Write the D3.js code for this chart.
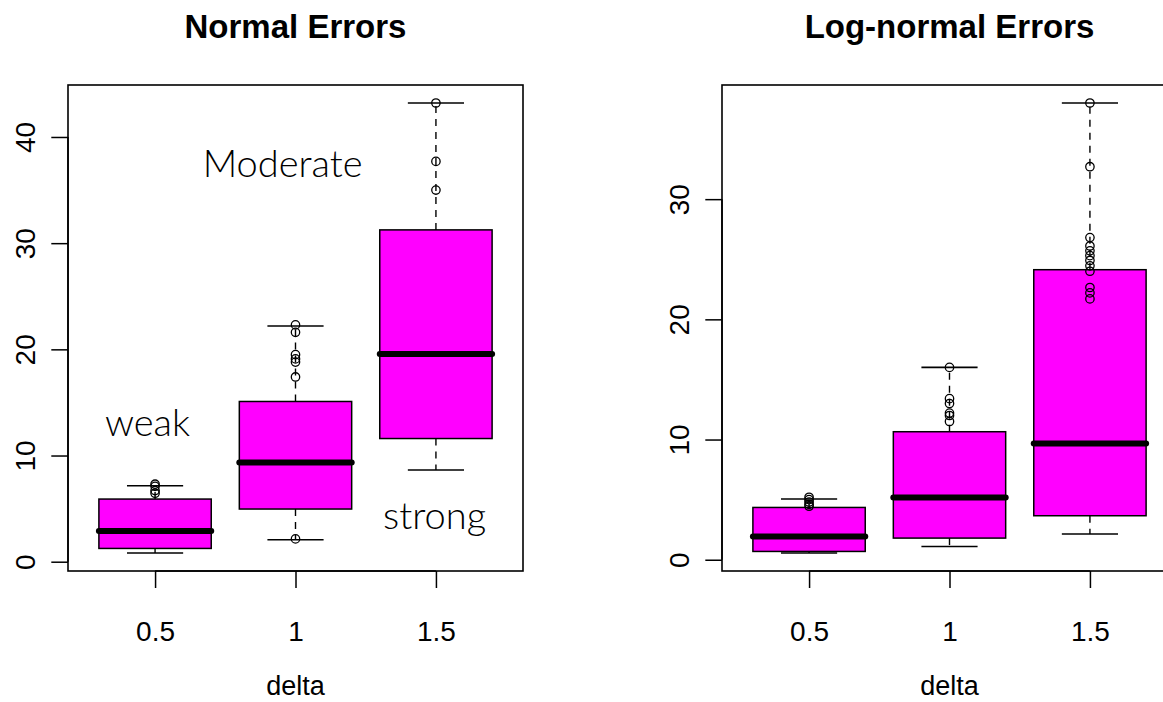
<!DOCTYPE html>
<html>
<head>
<meta charset="utf-8">
<script src="https://cdn.jsdelivr.net/npm/d3@7"></script>
<style>
  html, body { margin: 0; padding: 0; background: #ffffff; }
  svg { display: block; }
</style>
</head>
<body>
<svg id="chart" width="1163" height="702"></svg>
<script>
// ---------------- data ----------------
const categories = ["0.5", "1", "1.5"];
const xLabel = "delta";

const normalTitle = "Normal Errors";
const normalLower  = [0.82, 2.07, 8.63];
const normalQ1     = [1.25, 4.96, 11.6];
const normalMedian = [2.89, 9.35, 19.55];
const normalQ3     = [5.9, 15.09, 31.25];
const normalUpper  = [7.15, 22.2, 43.2];
const normalPoints = [
  [7.3, 7.1, 6.7, 6.45],
  [22.3, 21.6, 19.5, 19.1, 18.8, 17.4, 2.15],
  [43.2, 37.7, 35.0]
];
const normalTicks = [0, 10, 20, 30, 40];

const lognormalTitle = "Log-normal Errors";
const lognormalLower  = [0.56, 1.1, 2.14];
const lognormalQ1     = [0.69, 1.8, 3.66];
const lognormalMedian = [1.94, 5.18, 9.68];
const lognormalQ3     = [4.35, 10.65, 24.13];
const lognormalUpper  = [5.05, 16.0, 38.0];
const lognormalPoints = [
  [5.2, 5.0, 4.8, 4.6, 4.45],
  [16.0, 13.4, 13.0, 12.2, 12.0, 11.5],
  [38.0, 32.7, 26.8, 26.1, 25.7, 25.3, 24.9, 24.45, 24.0, 22.65, 22.2, 21.7]
];
const lognormalTicks = [0, 10, 20, 30];

// annotations on the left panel (category position, value)
const noteLabels = ["weak", "Moderate", "strong"];
const noteX = [0.946, 1.908, 2.99];
const noteY = [11.86, 36.2, 3.08];

// ---------------- drawing ----------------
const svg = d3.select("#chart");
svg.append("rect").attr("width", 1163).attr("height", 702).attr("fill", "#ffffff");

const AXIS_FONT = "'Liberation Sans', Arial, Helvetica, sans-serif";

function panel(opts) {
  const { left, right, top, bottom, title, lower, q1, med, q3, upper, points, ticks, notes } = opts;
  const g = svg.append("g");
  const n = categories.length;

  // R style extended ranges (4%)
  const xr = [0.5, n + 0.5];
  const xpad = (xr[1] - xr[0]) * 0.04;
  const x = d3.scaleLinear().domain([xr[0] - xpad, xr[1] + xpad]).range([left, right]);

  const allVals = [].concat(lower, upper, points.flat());
  const vmin = d3.min(allVals), vmax = d3.max(allVals);
  const ypad = (vmax - vmin) * 0.04;
  const y = d3.scaleLinear().domain([vmin - ypad, vmax + ypad]).range([bottom, top]);

  const boxW = 0.8, stapleW = 0.4;

  categories.forEach((c, i) => {
    const cx = i + 1;
    const bg = g.append("g");
    // whiskers (dashed)
    bg.append("line")
      .attr("x1", x(cx)).attr("x2", x(cx))
      .attr("y1", y(q3[i])).attr("y2", y(upper[i]))
      .attr("stroke", "#000").attr("stroke-width", 1.4).attr("stroke-dasharray", "7,6");
    bg.append("line")
      .attr("x1", x(cx)).attr("x2", x(cx))
      .attr("y1", y(q1[i])).attr("y2", y(lower[i]))
      .attr("stroke", "#000").attr("stroke-width", 1.4).attr("stroke-dasharray", "7,6");
    // staples
    [upper[i], lower[i]].forEach(v => {
      bg.append("line")
        .attr("x1", x(cx - stapleW / 2)).attr("x2", x(cx + stapleW / 2))
        .attr("y1", y(v)).attr("y2", y(v))
        .attr("stroke", "#000").attr("stroke-width", 1.6);
    });
    // box
    bg.append("rect")
      .attr("x", x(cx - boxW / 2)).attr("width", x(cx + boxW / 2) - x(cx - boxW / 2))
      .attr("y", y(q3[i])).attr("height", y(q1[i]) - y(q3[i]))
      .attr("fill", "#ff00ff").attr("stroke", "#000").attr("stroke-width", 1.5);
    // median
    bg.append("line")
      .attr("x1", x(cx - boxW / 2)).attr("x2", x(cx + boxW / 2))
      .attr("y1", y(med[i])).attr("y2", y(med[i]))
      .attr("stroke", "#000").attr("stroke-width", 6).attr("stroke-linecap", "round");
    // points
    bg.selectAll("circle.pt").data(points[i]).enter().append("circle")
      .attr("class", "pt")
      .attr("cx", x(cx)).attr("cy", d => y(d)).attr("r", 4.2)
      .attr("fill", "none").attr("stroke", "#000").attr("stroke-width", 1.3);
  });

  // plot frame
  g.append("rect")
    .attr("x", left).attr("y", top).attr("width", right - left).attr("height", bottom - top)
    .attr("fill", "none").attr("stroke", "#000").attr("stroke-width", 1.6);

  // y axis
  const yAxis = d3.axisLeft(y).tickValues(ticks).tickFormat(d3.format("d")).tickSize(16.7).tickSizeOuter(0);
  const ya = g.append("g").attr("transform", `translate(${left},0)`).call(yAxis);
  ya.select(".domain").attr("d", `M0,${y(ticks[0])}V${y(ticks[ticks.length - 1])}`)
    .attr("stroke", "#000").attr("stroke-width", 1.5);
  ya.selectAll(".tick line").attr("stroke", "#000").attr("stroke-width", 1.5);
  ya.selectAll(".tick text")
    .attr("x", null).attr("dy", null)
    .attr("transform", "translate(-33,0) rotate(-90)")
    .attr("text-anchor", "middle")
    .attr("fill", "#000")
    .style("font-family", AXIS_FONT).style("font-size", "28px");

  // x axis
  const xAxis = d3.axisBottom(x).tickValues(d3.range(1, n + 1))
    .tickFormat(d => categories[d - 1]).tickSize(17).tickSizeOuter(0);
  const xa = g.append("g").attr("transform", `translate(0,${bottom})`).call(xAxis);
  xa.select(".domain").attr("d", `M${x(1)},0H${x(n)}`).attr("stroke", "#000").attr("stroke-width", 1.5);
  xa.selectAll(".tick line").attr("stroke", "#000").attr("stroke-width", 1.5);
  xa.selectAll(".tick text")
    .attr("y", 70).attr("dy", null)
    .attr("fill", "#000")
    .style("font-family", AXIS_FONT).style("font-size", "28px");

  // x label
  g.append("text")
    .attr("x", (left + right) / 2).attr("y", 695)
    .attr("text-anchor", "middle")
    .style("font-family", AXIS_FONT).style("font-size", "27px")
    .text(xLabel);

  // title
  g.append("text")
    .attr("x", (left + right) / 2).attr("y", 37.5)
    .attr("text-anchor", "middle")
    .style("font-family", AXIS_FONT).style("font-size", "33px").style("font-weight", "bold")
    .text(title);

  if (notes) {
    noteLabels.forEach((t, i) => {
      g.append("text")
        .attr("x", x(noteX[i])).attr("y", y(noteY[i]))
        .attr("text-anchor", "middle")
        .style("font-family", "Lato, 'Open Sans', sans-serif")
        .style("font-size", "38px")
        .style("font-weight", "300")
        .attr("fill", "#000")
        .text(t);
    });
  }
}

panel({
  left: 68, right: 523, top: 85, bottom: 571,
  title: normalTitle,
  lower: normalLower, q1: normalQ1, med: normalMedian, q3: normalQ3, upper: normalUpper,
  points: normalPoints, ticks: normalTicks, notes: true
});

panel({
  left: 722, right: 1177, top: 85, bottom: 571,
  title: lognormalTitle,
  lower: lognormalLower, q1: lognormalQ1, med: lognormalMedian, q3: lognormalQ3, upper: lognormalUpper,
  points: lognormalPoints, ticks: lognormalTicks, notes: false
});
</script>
</body>
</html>
